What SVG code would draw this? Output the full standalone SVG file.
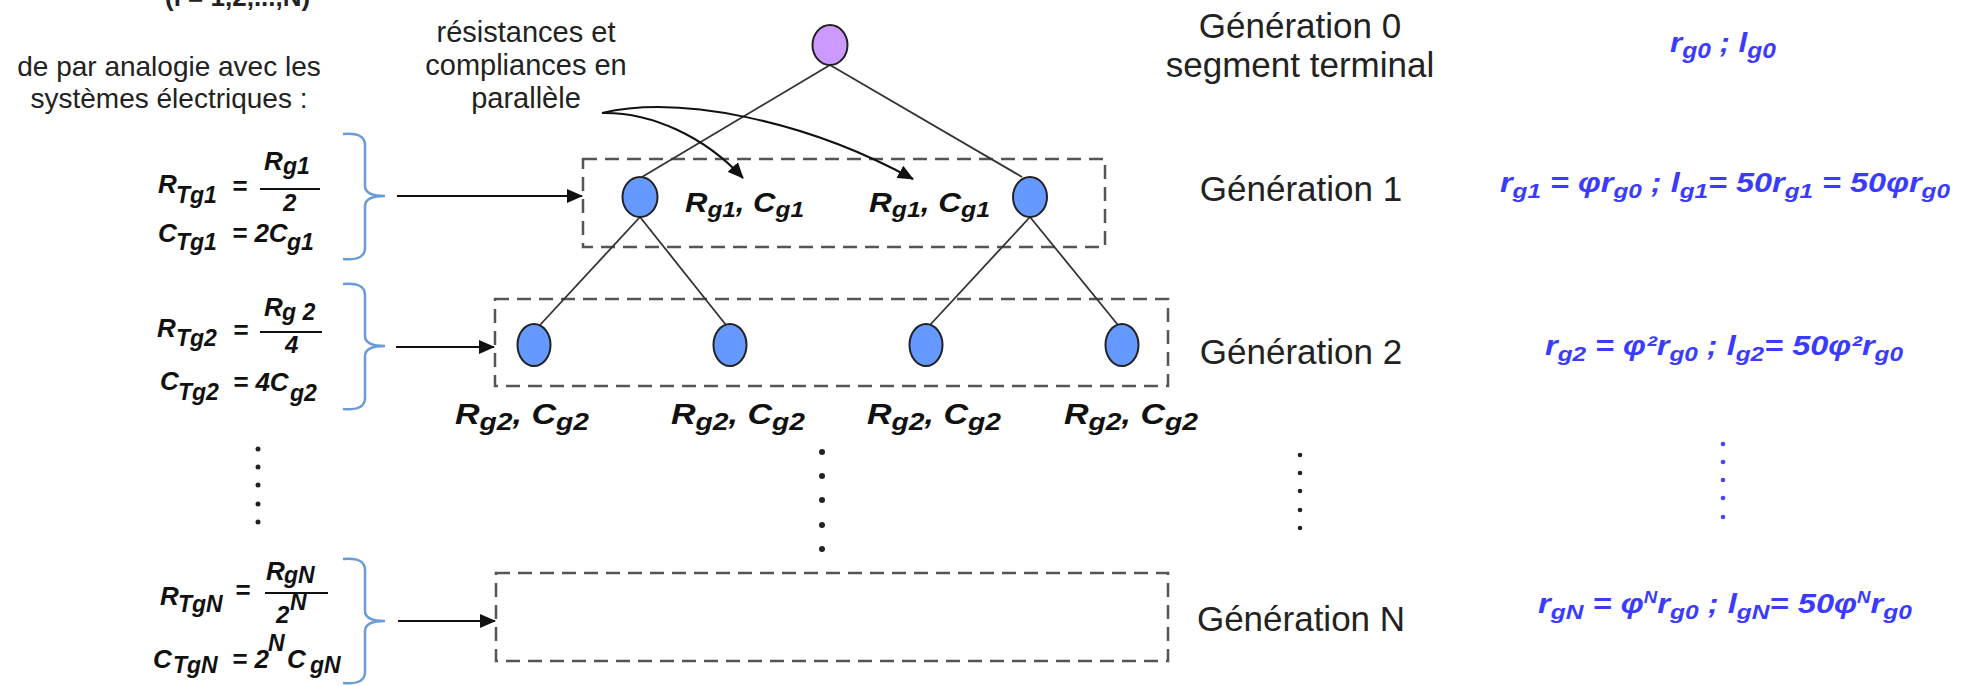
<svg xmlns="http://www.w3.org/2000/svg" width="1970" height="686" viewBox="0 0 1970 686">
<style>
.t{font-family:"Liberation Sans",Arial,sans-serif;fill:#222}
.eq{font-family:"Liberation Sans",Arial,sans-serif;font-weight:bold;font-style:italic;fill:#111}
.bl{font-family:"Liberation Sans",Arial,sans-serif;font-weight:bold;font-style:italic;fill:#3b3bff}
.box{fill:none;stroke:#555;stroke-width:2.5;stroke-dasharray:14 8}
.node{fill:#6699ff;stroke:#222;stroke-width:2}
.edge{stroke:#333;stroke-width:1.8;fill:none}
.arr{stroke:#111;stroke-width:2;fill:none}
.brace{stroke:#6a9bd8;stroke-width:2.5;fill:none}
</style>
<defs>
<marker id="ah2" markerWidth="16" markerHeight="14" refX="15" refY="7" orient="auto" markerUnits="userSpaceOnUse" viewBox="0 0 16 14">
<path d="M0,0 L16,7 L0,14 z" fill="#111"/>
</marker>
</defs>

<g id="header">
<text class="t" x="165" y="6" font-size="26" font-weight="bold">(i = 1,2,...,N)</text>
<text class="t" x="169" y="76" font-size="28" text-anchor="middle">de par analogie avec les</text>
<text class="t" x="169" y="108" font-size="28" text-anchor="middle">systèmes électriques :</text>
<text class="t" x="526" y="42" font-size="29" text-anchor="middle">résistances et</text>
<text class="t" x="526" y="75" font-size="29" text-anchor="middle">compliances en</text>
<text class="t" x="526" y="108" font-size="29" text-anchor="middle">parallèle</text>
</g>

<g id="boxes">
<rect id="gen1-box" class="box" x="583" y="159" width="522" height="88"/>
<rect id="gen2-box" class="box" x="495" y="299" width="673" height="87"/>
<rect id="genN-box" class="box" x="496" y="573" width="672" height="88"/>
</g>

<g id="connectors">
<line class="edge" x1="830" y1="65" x2="642" y2="177"/>
<line class="edge" x1="830" y1="65" x2="1022" y2="177"/>
<line class="edge" x1="640" y1="217" x2="540" y2="325"/>
<line class="edge" x1="640" y1="217" x2="726" y2="325"/>
<line class="edge" x1="1030" y1="217" x2="930" y2="325"/>
<line class="edge" x1="1030" y1="217" x2="1118" y2="325"/>
<path class="arr" d="M602,113 C652,112 705,137 743,178" marker-end="url(#ah2)"/>
<path class="arr" d="M602,113 C680,95 805,120 913,179" marker-end="url(#ah2)"/>
<line class="arr" x1="397" y1="196" x2="582" y2="196" marker-end="url(#ah2)"/>
<line class="arr" x1="396" y1="347" x2="494" y2="347" marker-end="url(#ah2)"/>
<line class="arr" x1="398" y1="621" x2="495" y2="621" marker-end="url(#ah2)"/>
</g>

<g id="braces">
<path class="brace" d="M343,134 Q365,132 365,145 L365,186 Q365,196 385,196 Q365,196 365,206 L365,248 Q365,261 343,259"/>
<path class="brace" d="M343,284 Q365,282 365,295 L365,336 Q365,346 385,346 Q365,346 365,356 L365,398 Q365,411 343,409"/>
<path class="brace" d="M343,559 Q365,557 365,570 L365,611 Q365,621 385,621 Q365,621 365,631 L365,672 Q365,685 343,683"/>
</g>

<g id="node-gen0"><ellipse cx="830" cy="45" rx="17.5" ry="20" fill="#cc99ff" stroke="#222" stroke-width="2"/></g>
<g id="node-gen1-a"><ellipse class="node" cx="640" cy="197" rx="17.5" ry="20"/></g>
<g id="node-gen1-b"><ellipse class="node" cx="1030" cy="197" rx="17" ry="20"/></g>
<g id="node-gen2-a"><ellipse class="node" cx="534" cy="345" rx="16.5" ry="21"/></g>
<g id="node-gen2-b"><ellipse class="node" cx="730" cy="345" rx="16.5" ry="21"/></g>
<g id="node-gen2-c"><ellipse class="node" cx="926" cy="345" rx="16.5" ry="21"/></g>
<g id="node-gen2-d"><ellipse class="node" cx="1122" cy="345" rx="16.5" ry="21"/></g>

<g id="labels-gen1">
<text class="eq" x="685" y="212" font-size="28" textLength="119" lengthAdjust="spacingAndGlyphs">R<tspan font-size="22" dy="5">g1</tspan><tspan dy="-5">, C</tspan><tspan font-size="22" dy="5">g1</tspan></text>
<text class="eq" x="869" y="212" font-size="28" textLength="121" lengthAdjust="spacingAndGlyphs">R<tspan font-size="22" dy="5">g1</tspan><tspan dy="-5">, C</tspan><tspan font-size="22" dy="5">g1</tspan></text>
</g>
<g id="labels-gen2">
<text class="eq" x="455" y="424" font-size="29" textLength="134" lengthAdjust="spacingAndGlyphs">R<tspan font-size="24" dy="6">g2</tspan><tspan dy="-6">, C</tspan><tspan font-size="24" dy="6">g2</tspan></text>
<text class="eq" x="671" y="424" font-size="29" textLength="134" lengthAdjust="spacingAndGlyphs">R<tspan font-size="24" dy="6">g2</tspan><tspan dy="-6">, C</tspan><tspan font-size="24" dy="6">g2</tspan></text>
<text class="eq" x="867" y="424" font-size="29" textLength="134" lengthAdjust="spacingAndGlyphs">R<tspan font-size="24" dy="6">g2</tspan><tspan dy="-6">, C</tspan><tspan font-size="24" dy="6">g2</tspan></text>
<text class="eq" x="1064" y="424" font-size="29" textLength="134" lengthAdjust="spacingAndGlyphs">R<tspan font-size="24" dy="6">g2</tspan><tspan dy="-6">, C</tspan><tspan font-size="24" dy="6">g2</tspan></text>
</g>

<g id="formula-1">
<text class="eq" x="158" y="193" font-size="26">R</text>
<text class="eq" x="176" y="203" font-size="23">Tg1</text>
<text class="eq" x="232" y="195" font-size="26">=</text>
<line x1="260" y1="189" x2="320" y2="189" stroke="#111" stroke-width="2"/>
<text class="eq" x="264" y="170" font-size="26">R</text>
<text class="eq" x="283" y="174" font-size="23">g1</text>
<text class="eq" x="283" y="211" font-size="24">2</text>
<text class="eq" x="158" y="242" font-size="26">C</text>
<text class="eq" x="176" y="250" font-size="23">Tg1</text>
<text class="eq" x="232" y="242" font-size="26">= 2C</text>
<text class="eq" x="287" y="250" font-size="23">g1</text>
</g>
<g id="formula-2">
<text class="eq" x="157" y="337" font-size="26">R</text>
<text class="eq" x="176" y="346" font-size="23">Tg2</text>
<text class="eq" x="233" y="339" font-size="26">=</text>
<line x1="260" y1="332" x2="322" y2="332" stroke="#111" stroke-width="2"/>
<text class="eq" x="264" y="316" font-size="26">R</text>
<text class="eq" x="282" y="320" font-size="23">g 2</text>
<text class="eq" x="285" y="353" font-size="24">4</text>
<text class="eq" x="160" y="390" font-size="26">C</text>
<text class="eq" x="178" y="400" font-size="23">Tg2</text>
<text class="eq" x="233" y="391" font-size="26">= 4C</text>
<text class="eq" x="290" y="401" font-size="23">g2</text>
</g>
<g id="formula-N">
<text class="eq" x="160" y="605" font-size="26">R</text>
<text class="eq" x="178" y="612" font-size="23">TgN</text>
<text class="eq" x="235" y="599" font-size="26">=</text>
<line x1="265" y1="593" x2="328" y2="593" stroke="#111" stroke-width="2"/>
<text class="eq" x="266" y="580" font-size="26">R</text>
<text class="eq" x="284" y="583" font-size="23">gN</text>
<text class="eq" x="276" y="623" font-size="24">2</text>
<text class="eq" x="290" y="610" font-size="23">N</text>
<text class="eq" x="153" y="668" font-size="26">C</text>
<text class="eq" x="173" y="673" font-size="23">TgN</text>
<text class="eq" x="232" y="668" font-size="26">= 2</text>
<text class="eq" x="268" y="651" font-size="23">N</text>
<text class="eq" x="287" y="668" font-size="26">C</text>
<text class="eq" x="310" y="673" font-size="23">gN</text>
</g>

<g id="generation-labels">
<text class="t" x="1300" y="38" font-size="35" text-anchor="middle">Génération 0</text>
<text class="t" x="1300" y="77" font-size="35" text-anchor="middle">segment terminal</text>
<text class="t" x="1301" y="201" font-size="35" text-anchor="middle">Génération 1</text>
<text class="t" x="1301" y="364" font-size="35" text-anchor="middle">Génération 2</text>
<text class="t" x="1301" y="631" font-size="35" text-anchor="middle">Génération N</text>
</g>

<g id="blue-formulas">
<text class="bl" x="1670" y="52" font-size="28" textLength="106" lengthAdjust="spacingAndGlyphs">r<tspan font-size="22" dy="6">g0</tspan><tspan dy="-6"> ; l</tspan><tspan font-size="22" dy="6">g0</tspan></text>
<text class="bl" x="1500" y="192" font-size="28" textLength="450" lengthAdjust="spacingAndGlyphs">r<tspan font-size="21" dy="6">g1</tspan><tspan dy="-6"> = φr</tspan><tspan font-size="21" dy="6">g0</tspan><tspan dy="-6"> ; l</tspan><tspan font-size="21" dy="6">g1</tspan><tspan dy="-6">= 50r</tspan><tspan font-size="21" dy="6">g1</tspan><tspan dy="-6"> = 50φr</tspan><tspan font-size="21" dy="6">g0</tspan></text>
<text class="bl" x="1545" y="355" font-size="28" textLength="358" lengthAdjust="spacingAndGlyphs">r<tspan font-size="21" dy="6">g2</tspan><tspan dy="-6"> = φ²r</tspan><tspan font-size="21" dy="6">g0</tspan><tspan dy="-6"> ; l</tspan><tspan font-size="21" dy="6">g2</tspan><tspan dy="-6">= 50φ²r</tspan><tspan font-size="21" dy="6">g0</tspan></text>
<text class="bl" x="1538" y="613" font-size="28" textLength="374" lengthAdjust="spacingAndGlyphs">r<tspan font-size="21" dy="6">gN</tspan><tspan dy="-6"> = φ</tspan><tspan font-size="16" dy="-10">N</tspan><tspan dy="10">r</tspan><tspan font-size="21" dy="6">g0</tspan><tspan dy="-6"> ; l</tspan><tspan font-size="21" dy="6">gN</tspan><tspan dy="-6">= 50φ</tspan><tspan font-size="16" dy="-10">N</tspan><tspan dy="10">r</tspan><tspan font-size="21" dy="6">g0</tspan></text>
</g>

<g id="ellipsis-dots">
<g fill="#222">
<circle cx="258" cy="449" r="2.5"/><circle cx="258" cy="467" r="2.5"/><circle cx="258" cy="485" r="2.5"/><circle cx="258" cy="504" r="2.5"/><circle cx="258" cy="522" r="2.5"/>
<circle cx="822" cy="452" r="3"/><circle cx="822" cy="476" r="3"/><circle cx="822" cy="500" r="3"/><circle cx="822" cy="525" r="3"/><circle cx="822" cy="549" r="3"/>
<circle cx="1300" cy="455" r="2.3"/><circle cx="1300" cy="473" r="2.3"/><circle cx="1300" cy="491" r="2.3"/><circle cx="1300" cy="510" r="2.3"/><circle cx="1300" cy="528" r="2.3"/>
</g>
<g fill="#4444ff">
<circle cx="1723" cy="444" r="2.3"/><circle cx="1723" cy="462" r="2.3"/><circle cx="1723" cy="480" r="2.3"/><circle cx="1723" cy="498" r="2.3"/><circle cx="1723" cy="517" r="2.3"/>
</g>
</g>
</svg>
